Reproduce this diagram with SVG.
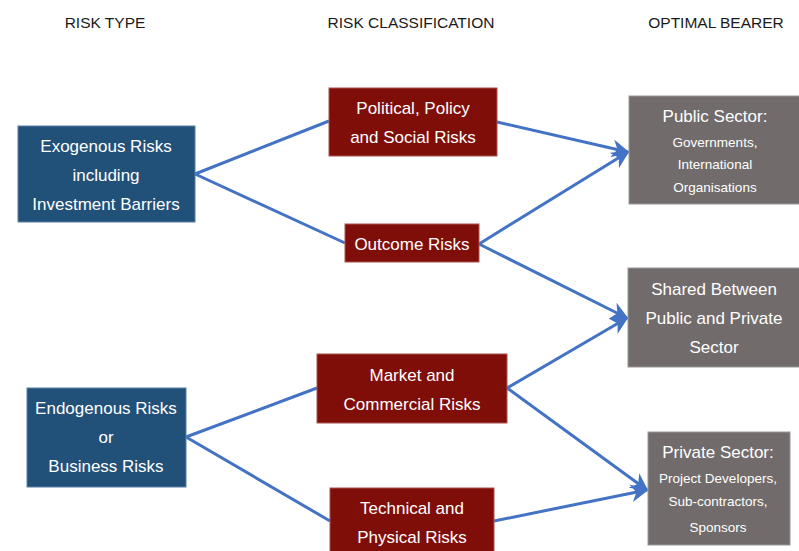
<svg xmlns="http://www.w3.org/2000/svg" width="799" height="551" viewBox="0 0 799 551">
<style>
text{font-family:"Liberation Sans",Arial,sans-serif;text-anchor:middle;}
.hd{font-size:15.5px;fill:#1a1a1a;}
.t{font-size:17px;fill:#ffffff;}
.s{font-size:13.5px;fill:#ffffff;}
.blue{fill:#215078;stroke:#5a7fa6;stroke-width:1;}
.red{fill:#7f0e09;stroke:#b05050;stroke-width:1;}
.grey{fill:#716c6b;stroke:#9a9797;stroke-width:1;}
.c{stroke:#4472c4;stroke-width:3;fill:none;}
</style>
<defs>
<marker id="ah" viewBox="0 0 10 10" refX="9" refY="5" markerWidth="6" markerHeight="6" orient="auto" markerUnits="strokeWidth">
<path d="M0,0 L10,5 L0,10 L3,5 Z" fill="#4472c4"/>
</marker>
</defs>
<rect width="799" height="551" fill="#ffffff"/>
<g id="headers">
<text class="hd" x="105" y="28">RISK TYPE</text>
<text class="hd" x="411" y="28">RISK CLASSIFICATION</text>
<text class="hd" x="716" y="28">OPTIMAL BEARER</text>
</g>
<g id="connectors">
<line class="c" x1="195" y1="174" x2="329" y2="121"/>
<line class="c" x1="195" y1="174" x2="345" y2="243"/>
<line class="c" x1="497" y1="122" x2="628" y2="152" marker-end="url(#ah)"/>
<line class="c" x1="479" y1="244" x2="628" y2="152" marker-end="url(#ah)"/>
<line class="c" x1="479" y1="244" x2="627" y2="318" marker-end="url(#ah)"/>
<line class="c" x1="507" y1="388" x2="627" y2="318" marker-end="url(#ah)"/>
<line class="c" x1="507" y1="388" x2="647" y2="490" marker-end="url(#ah)"/>
<line class="c" x1="494" y1="521" x2="647" y2="490" marker-end="url(#ah)"/>
<line class="c" x1="186" y1="437" x2="317" y2="388"/>
<line class="c" x1="186" y1="437" x2="330" y2="521"/>
</g>
<g id="exogenous">
<rect class="blue" x="18" y="126" width="177" height="96"/>
<text class="t" x="106" y="152">Exogenous Risks</text>
<text class="t" x="106" y="181">including</text>
<text class="t" x="106" y="210">Investment Barriers</text>
</g>
<g id="endogenous">
<rect class="blue" x="27" y="388" width="159" height="99"/>
<text class="t" x="106" y="414">Endogenous Risks</text>
<text class="t" x="106" y="443">or</text>
<text class="t" x="106" y="472">Business Risks</text>
</g>
<g id="political">
<rect class="red" x="329" y="88" width="168" height="68"/>
<text class="t" x="413" y="114">Political, Policy</text>
<text class="t" x="413" y="143">and Social Risks</text>
</g>
<g id="outcome">
<rect class="red" x="345" y="224" width="134" height="38"/>
<text class="t" x="412" y="250">Outcome Risks</text>
</g>
<g id="market">
<rect class="red" x="317" y="354" width="190" height="69"/>
<text class="t" x="412" y="381">Market and</text>
<text class="t" x="412" y="410">Commercial Risks</text>
</g>
<g id="technical">
<rect class="red" x="330" y="488" width="164" height="70"/>
<text class="t" x="412" y="514">Technical and</text>
<text class="t" x="412" y="543">Physical Risks</text>
</g>
<g id="public">
<rect class="grey" x="629" y="96" width="175" height="108"/>
<text class="t" x="715" y="122">Public Sector:</text>
<text class="s" x="715" y="147">Governments,</text>
<text class="s" x="715" y="169">International</text>
<text class="s" x="715" y="192">Organisations</text>
</g>
<g id="shared">
<rect class="grey" x="628" y="268" width="176" height="99"/>
<text class="t" x="714" y="295">Shared Between</text>
<text class="t" x="714" y="324">Public and Private</text>
<text class="t" x="714" y="353">Sector</text>
</g>
<g id="private">
<rect class="grey" x="648" y="432" width="142" height="113"/>
<text class="t" x="718" y="458">Private Sector:</text>
<text class="s" x="718" y="483">Project Developers,</text>
<text class="s" x="718" y="506">Sub-contractors,</text>
<text class="s" x="718" y="532">Sponsors</text>
</g>
</svg>
